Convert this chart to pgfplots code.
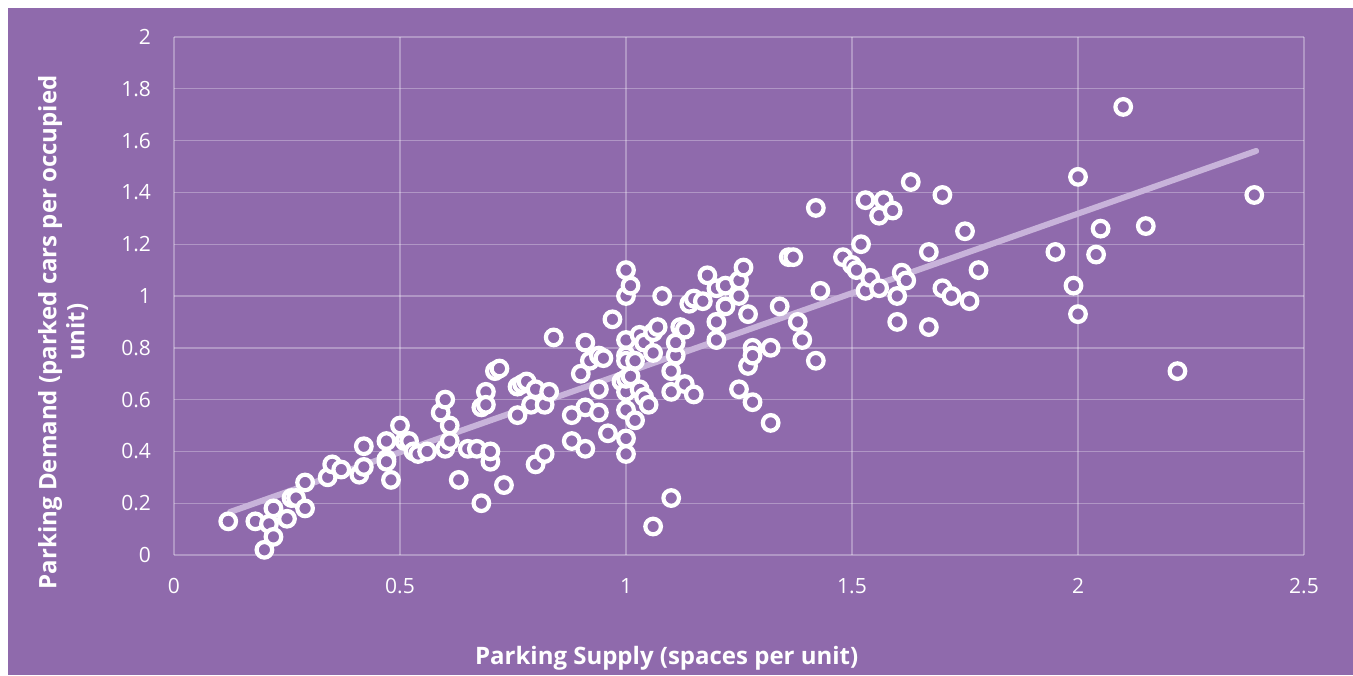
\documentclass[border=0pt]{standalone}
\usepackage{fontspec}
\setmainfont{Open Sans}
\usepackage{pgfplots}
\pgfplotsset{compat=1.18}
\definecolor{bgpurple}{HTML}{8F6AAC}
\definecolor{trend}{HTML}{C8B3DA}

\pgfplotstableread{
x y
0.12 0.13
0.18 0.13
0.20 0.02
0.21 0.12
0.22 0.18
0.22 0.07
0.25 0.14
0.26 0.22
0.27 0.22
0.29 0.28
0.29 0.18
0.34 0.30
0.35 0.35
0.37 0.33
0.41 0.31
0.42 0.34
0.42 0.42
0.47 0.44
0.47 0.37
0.47 0.36
0.48 0.29
0.50 0.50
0.51 0.44
0.52 0.44
0.53 0.40
0.54 0.39
0.56 0.40
0.59 0.55
0.60 0.60
0.60 0.41
0.61 0.44
0.61 0.50
0.63 0.29
0.65 0.41
0.67 0.41
0.68 0.20
0.68 0.57
0.69 0.63
0.69 0.58
0.70 0.36
0.70 0.40
0.71 0.71
0.72 0.72
0.73 0.27
0.76 0.65
0.77 0.66
0.76 0.54
0.78 0.67
0.79 0.58
0.80 0.64
0.80 0.35
0.82 0.39
0.82 0.58
0.83 0.63
0.84 0.84
0.88 0.54
0.88 0.44
0.90 0.70
0.91 0.82
0.91 0.57
0.91 0.41
0.92 0.75
0.94 0.77
0.94 0.55
0.94 0.64
0.95 0.76
0.96 0.47
0.97 0.91
0.99 0.67
1.00 1.10
1.00 1.00
1.01 1.04
1.00 0.83
1.00 0.77
1.00 0.75
1.00 0.63
1.00 0.56
1.00 0.45
1.00 0.39
1.00 0.68
1.01 0.69
1.02 0.75
1.02 0.52
1.03 0.85
1.03 0.64
1.04 0.82
1.04 0.61
1.05 0.58
1.06 0.78
1.06 0.86
1.07 0.88
1.06 0.11
1.08 1.00
1.10 0.22
1.10 0.71
1.10 0.63
1.11 0.77
1.11 0.82
1.12 0.88
1.13 0.87
1.13 0.66
1.14 0.97
1.15 0.99
1.15 0.62
1.17 0.98
1.18 1.08
1.20 0.90
1.20 0.83
1.20 1.03
1.22 1.04
1.22 0.96
1.25 1.00
1.25 1.06
1.26 1.11
1.25 0.64
1.27 0.93
1.27 0.73
1.28 0.59
1.28 0.80
1.28 0.77
1.32 0.51
1.32 0.80
1.34 0.96
1.36 1.15
1.37 1.15
1.38 0.90
1.39 0.83
1.42 1.34
1.42 0.75
1.43 1.02
1.48 1.15
1.50 1.12
1.51 1.10
1.52 1.20
1.53 1.02
1.53 1.37
1.54 1.07
1.56 1.31
1.57 1.37
1.59 1.33
1.56 1.03
1.60 0.90
1.60 1.00
1.61 1.09
1.62 1.06
1.63 1.44
1.67 0.88
1.67 1.17
1.70 1.39
1.70 1.03
1.72 1.00
1.75 1.25
1.76 0.98
1.78 1.10
1.95 1.17
1.99 1.04
2.00 1.46
2.00 0.93
2.04 1.16
2.05 1.26
2.10 1.73
2.15 1.27
2.22 0.71
2.39 1.39
}\parkdata

\begin{document}
\begin{tikzpicture}
% frame: 1px = 0.5pt, axis origin at pixel (174,555)
\useasboundingbox (-87pt,-60pt) rectangle (589.5pt,277.5pt);
\fill[white] (-87pt,-60pt) rectangle (589.5pt,277.5pt);
\fill[bgpurple] (-83pt,-60pt) rectangle (589.5pt,273.5pt);
\begin{axis}[
  at={(0pt,0pt)}, anchor=south west,
  scale only axis,
  width=565pt, height=259pt,
  xmin=0, xmax=2.5, ymin=0, ymax=2,
  xtick={0,0.5,1,1.5,2,2.5},
  ytick={0,0.2,0.4,0.6,0.8,1,1.2,1.4,1.6,1.8,2},
  axis line style={draw=none},
  major tick length=0pt,
  grid=major,
  grid style={white, opacity=0.3, line width=0.7pt},
  /pgf/number format/assume math mode=true,
  tick label style={white, font=\fontsize{10.5}{12}\selectfont},
  yticklabel style={xshift=-8pt},
  xticklabel style={yshift=-8pt},
  xlabel={Parking Supply (spaces per unit)},
  ylabel={Parking Demand (parked cars per occupied\\unit)},
  label style={white, font=\bfseries\fontsize{12}{14}\selectfont},
  xlabel style={at={(axis description cs:0.436,-0.199)}, anchor=center},
  ylabel style={at={(axis description cs:-0.098,0.43)}, anchor=center, align=center},
  clip=false,
]
\addplot[trend, line width=3pt, line cap=round] coordinates {(0.124,0.166) (2.394,1.560)};
\addplot[only marks, mark=*, mark size=3.9pt,
  mark options={draw=white, fill=bgpurple, line width=2.1pt}] table[x=x,y=y] {\parkdata};
\end{axis}
\end{tikzpicture}
\end{document}
